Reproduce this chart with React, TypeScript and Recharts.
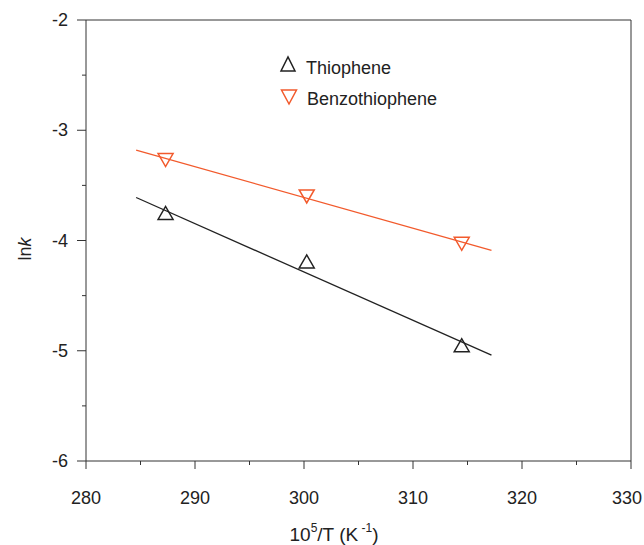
import { ComposedChart, Scatter, XAxis, YAxis, ReferenceLine, Customized } from 'recharts';

// 10^5/T values of the three runs
const invTemp = [287.3, 300.25, 314.47];
const thiophene = [-3.75, -4.19, -4.95];
const benzothiophene = [-3.27, -3.6, -4.03];

// linear fits, drawn between these two x values
const fitRange = [284.6, 317.2];
const thiopheneFit = [-3.61, -5.04];
const benzothiopheneFit = [-3.18, -4.09];

const xTicks = [280, 285, 290, 295, 300, 305, 310, 315, 320, 325, 330];
const yTicks = [-6, -5.5, -5, -4.5, -4, -3.5, -3, -2.5, -2];

const BLACK = '#222';
const RED = '#f25a2c';
const AXIS = '#333';
const FONT = '"Liberation Sans", Arial, sans-serif';
const WIDTH = 644;

const toPoints = (xs: number[], ys: number[]) => xs.map((x, i) => ({ x, y: ys[i] }));

const thiophenePts = toPoints(invTemp, thiophene);
const benzoPts = toPoints(invTemp, benzothiophene);
const thiopheneLine = toPoints(fitRange, thiopheneFit);
const benzoLine = toPoints(fitRange, benzothiopheneFit);

const triUp = (cx: number, cy: number, w = 15, h = 13) =>
  `M${cx - w / 2},${cy + h / 2} L${cx + w / 2},${cy + h / 2} L${cx},${cy - h / 2} Z`;
const triDown = (cx: number, cy: number, w = 15, h = 13) =>
  `M${cx - w / 2},${cy - h / 2} L${cx + w / 2},${cy - h / 2} L${cx},${cy + h / 2} Z`;

const UpMarker = (props: any) => (
  <path d={triUp(props.cx, props.cy)} fill="none" stroke={BLACK} strokeWidth={1.5} />
);
const DownMarker = (props: any) => (
  <path d={triDown(props.cx, props.cy)} fill="none" stroke={RED} strokeWidth={1.5} />
);
const NoMarker = () => <g />;

const XTick = ({ x, y, payload }: any) => {
  const major = payload.value % 10 === 0;
  // keep the last label inside the picture
  const lx = Math.min(x, WIDTH - 17);
  return (
    <g>
      <line x1={x} x2={x} y1={y} y2={y + (major ? 8 : 4)} stroke={AXIS} />
      {major && (
        <text x={lx} y={y + 43} textAnchor="middle" fontSize={18} fontFamily={FONT} fill={BLACK}>
          {payload.value}
        </text>
      )}
    </g>
  );
};

const YTick = ({ x, y, payload }: any) => {
  const major = Number.isInteger(payload.value);
  return (
    <g>
      <line x1={x - (major ? 9 : 4)} x2={x} y1={y} y2={y} stroke={AXIS} />
      {major && (
        <text x={x - 18} y={y + 6} textAnchor="end" fontSize={18} fontFamily={FONT} fill={BLACK}>
          {payload.value}
        </text>
      )}
    </g>
  );
};

const Labels = () => (
  <g fontFamily={FONT} fontSize={18} fill={BLACK}>
    <text x={334} y={541} textAnchor="middle" fontSize={19}>
      10<tspan dy={-9} fontSize={12}>5</tspan>
      <tspan dy={9}>/T (K</tspan>
      <tspan dy={-9} fontSize={12}> -1</tspan>
      <tspan dy={9}>)</tspan>
    </text>
    <text x={31} y={249} textAnchor="middle" transform="rotate(-90, 31, 249)">
      ln<tspan fontStyle="italic">k</tspan>
    </text>
    {/* legend */}
    <path d={triUp(288, 64, 14, 14)} fill="none" stroke={BLACK} strokeWidth={1.5} />
    <text x={306} y={74}>Thiophene</text>
    <path d={triDown(289, 97, 15, 14)} fill="none" stroke={RED} strokeWidth={1.5} />
    <text x={307} y={105}>Benzothiophene</text>
  </g>
);

export default function App() {
  return (
    <div style={{ position: 'absolute', left: 0, top: 0, background: '#fff' }}>
      <ComposedChart width={WIDTH} height={545} margin={{ top: 20, right: 13, left: 0, bottom: 0 }}>
        <XAxis
          type="number"
          dataKey="x"
          domain={[280, 330]}
          ticks={xTicks}
          interval={0}
          tickSize={0}
          tickMargin={0}
          tickLine={false}
          tick={<XTick />}
          height={84}
          axisLine={{ stroke: AXIS }}
          allowDataOverflow
        />
        <YAxis
          type="number"
          dataKey="y"
          domain={[-6, -2]}
          ticks={yTicks}
          interval={0}
          tickSize={0}
          tickMargin={0}
          tickLine={false}
          tick={<YTick />}
          width={86}
          axisLine={{ stroke: AXIS }}
          allowDataOverflow
        />
        <ReferenceLine y={-2} stroke={AXIS} ifOverflow="visible" />
        <ReferenceLine x={330} stroke={AXIS} ifOverflow="visible" />
        <Scatter
          data={thiopheneLine}
          line={{ stroke: BLACK, strokeWidth: 1.3 }}
          shape={<NoMarker />}
          isAnimationActive={false}
        />
        <Scatter
          data={benzoLine}
          line={{ stroke: RED, strokeWidth: 1.3 }}
          shape={<NoMarker />}
          isAnimationActive={false}
        />
        <Scatter data={thiophenePts} shape={<UpMarker />} isAnimationActive={false} />
        <Scatter data={benzoPts} shape={<DownMarker />} isAnimationActive={false} />
        <Customized component={<Labels />} />
      </ComposedChart>
    </div>
  );
}
